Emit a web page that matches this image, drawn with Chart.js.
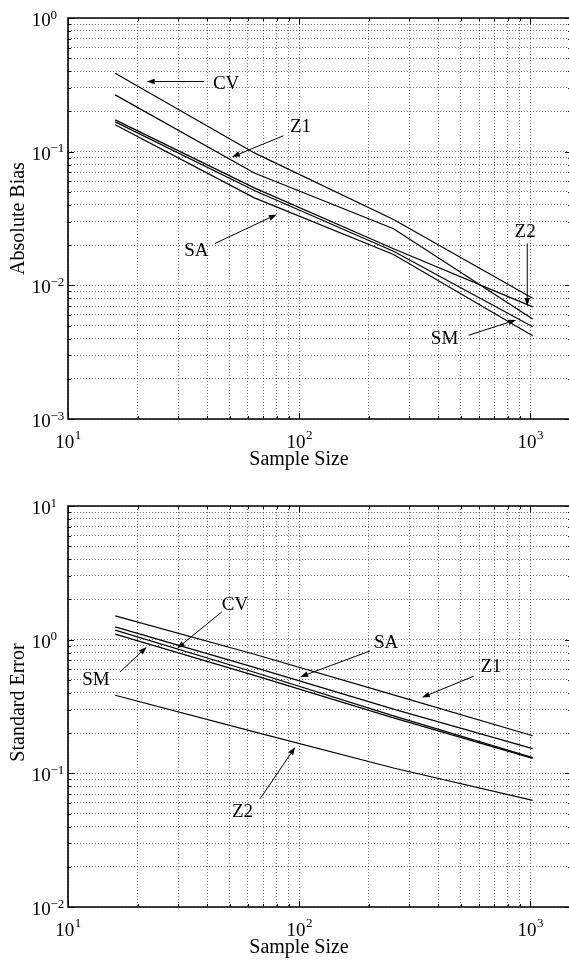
<!DOCTYPE html>
<html><head><meta charset="utf-8">
<script src="https://cdn.jsdelivr.net/npm/chart.js@4.4.0/dist/chart.umd.min.js"></script>
<style>
html,body{margin:0;padding:0;background:#fff;overflow:hidden;width:569px;height:964px;}
canvas{position:absolute;left:0;}
#c1{top:0}
#c2{top:480px}
</style></head><body>
<canvas id="c1" width="571" height="480"></canvas>
<canvas id="c2" width="571" height="484"></canvas>
<script>
// ---- data ----
const seriesNames = ['CV', 'Z1', 'Z2', 'SM', 'SA'];
const sampleSizes = [16, 64, 256, 1024];
// Absolute bias
const biasCV = [0.386, 0.0979, 0.0311, 0.0080];
const biasZ1 = [0.266, 0.0693, 0.0265, 0.0056];
const biasZ2 = [0.173, 0.0536, 0.0188, 0.0069];
const biasSM = [0.167, 0.0512, 0.0180, 0.0049];
const biasSA = [0.159, 0.0451, 0.0170, 0.0042];
// Standard error
const seCV = [1.178, 0.570, 0.269, 0.131];
const seZ1 = [1.506, 0.778, 0.386, 0.191];
const seZ2 = [0.384, 0.204, 0.1096, 0.0628];
const seSM = [1.100, 0.540, 0.260, 0.1294];
const seSA = [1.247, 0.621, 0.302, 0.153];
// tick labels (powers of ten)
const xTickExponents = [1, 2, 3];
const biasTickExponents = [-3, -2, -1, 0];
const seTickExponents = [-2, -1, 0, 1];

// ---- annotations (data coordinates) ----
const biasNotes = [
  {text:'CV', tx:48.3, ty:0.326, ax:38.8, ay:0.335, bx:21.9, by:0.335},
  {text:'Z1', tx:101.4, ty:0.1555, ax:85.5, ay:0.1316, bx:51.2, by:0.0913},
  {text:'SA', tx:35.9, ty:0.01857, ax:43.2, ay:0.02057, bx:80.0, by:0.0339},
  {text:'Z2', tx:950, ty:0.02564, ax:970, ay:0.02057, bx:970, by:0.00701},
  {text:'SM', tx:425.6, ty:0.00407, ax:540.6, ay:0.00423, bx:868.6, by:0.00551}
];
const seNotes = [
  {text:'CV', tx:52.8, ty:1.866, ax:46.3, ay:1.614, bx:29.6, by:0.859},
  {text:'SM', tx:13.2, ty:0.512, ax:16.8, ay:0.574, bx:21.9, by:0.883},
  {text:'SA', tx:237.7, ty:0.971, ax:202.8, ay:0.824, bx:101.0, by:0.526},
  {text:'Z1', tx:676, ty:0.638, ax:569, ay:0.533, bx:339.6, by:0.369},
  {text:'Z2', tx:56.9, ty:0.0526, ax:67.8, ay:0.0646, bx:96.2, by:0.1574}
];

const FONT = '"Liberation Serif", "Times New Roman", serif';

function logTicks(min, max) {
  const t = [];
  for (let e = Math.floor(Math.log10(min)); e <= Math.ceil(Math.log10(max)); e++) {
    for (let m = 1; m < 10; m++) {
      const v = m * Math.pow(10, e);
      if (v >= min * 0.9999 && v <= max * 1.0001) t.push({value: v, major: m === 1});
    }
  }
  return t;
}
function expStr(e) { return e < 0 ? '\u2212' + Math.abs(e) : String(e); }

function makeChart(id, arrays, yMin, yMax, yExps, yTitle, notes, padTop, xAxisH, yTitleDY) {
  const drawPlugin = {
    id: 'matlabStyle',
    afterDraw(chart) {
      const ctx = chart.ctx, ca = chart.chartArea, xs = chart.scales.x, ys = chart.scales.y;
      ctx.save();
      ctx.strokeStyle = '#000'; ctx.fillStyle = '#000';
      const line = (x1, y1, x2, y2) => { ctx.beginPath(); ctx.moveTo(x1, y1); ctx.lineTo(x2, y2); ctx.stroke(); };
      ctx.lineWidth = 1;
      xs.ticks.forEach(t => {
        const px = Math.round(xs.getPixelForValue(t.value)) + 0.5, L = t.major ? 6 : 3;
        line(px, ca.bottom, px, ca.bottom - L); line(px, ca.top, px, ca.top + L);
      });
      ys.ticks.forEach(t => {
        const py = Math.round(ys.getPixelForValue(t.value)) + 0.5, L = t.major ? 6 : 3;
        line(ca.left, py, ca.left + L, py); line(ca.right, py, ca.right - L, py);
      });
      ctx.lineWidth = 1.6;
      ctx.beginPath();
      ctx.moveTo(ca.right, ca.top); ctx.lineTo(ca.left, ca.top); ctx.lineTo(ca.left, ca.bottom); ctx.lineTo(ca.right, ca.bottom);
      ctx.stroke();
      // y tick labels
      ctx.textAlign = 'left'; ctx.textBaseline = 'alphabetic';
      yExps.forEach(e => {
        const py = ys.getPixelForValue(Math.pow(10, e));
        ctx.font = '19px ' + FONT; ctx.fillText('10', ca.left - 36.3, py + 8);
        ctx.font = '13px ' + FONT; ctx.fillText(expStr(e), ca.left - 17.5, py + 0.5);
      });
      // x tick labels
      xTickExponents.forEach(e => {
        const px = xs.getPixelForValue(Math.pow(10, e));
        ctx.font = '19px ' + FONT; const w10 = ctx.measureText('10').width;
        ctx.font = '13px ' + FONT; const ws = ctx.measureText(expStr(e)).width;
        const x0 = px - (w10 + ws) / 2;
        ctx.font = '19px ' + FONT; ctx.fillText('10', x0, ca.bottom + 29);
        ctx.font = '13px ' + FONT; ctx.fillText(expStr(e), x0 + w10 + 0.5, ca.bottom + 19.5);
      });
      // axis titles
      ctx.font = '20px ' + FONT; ctx.textAlign = 'center';
      ctx.fillText('Sample Size', 299, ca.bottom + 46);
      ctx.save();
      ctx.translate(23.5, (ca.top + ca.bottom) / 2 + yTitleDY);
      ctx.rotate(-Math.PI / 2);
      ctx.fillText(yTitle, 0, 0);
      ctx.restore();
      // annotations
      ctx.lineWidth = 1;
      notes.forEach(n => {
        const tx = xs.getPixelForValue(n.tx), ty = ys.getPixelForValue(n.ty);
        ctx.font = '19px ' + FONT; ctx.textAlign = 'center';
        ctx.fillText(n.text, tx, ty + 6.3);
        const x1 = xs.getPixelForValue(n.ax), y1 = ys.getPixelForValue(n.ay);
        const x2 = xs.getPixelForValue(n.bx), y2 = ys.getPixelForValue(n.by);
        const ang = Math.atan2(y2 - y1, x2 - x1), HL = 8, HW = 2.8;
        const bx = x2 - HL * Math.cos(ang), by = y2 - HL * Math.sin(ang);
        line(x1, y1, bx, by);
        ctx.beginPath();
        ctx.moveTo(x2, y2);
        ctx.lineTo(bx - HW * Math.sin(ang), by + HW * Math.cos(ang));
        ctx.lineTo(bx + HW * Math.sin(ang), by - HW * Math.cos(ang));
        ctx.closePath(); ctx.fill();
      });
      ctx.restore();
    }
  };
  const gridCommon = {color: 'rgba(0,0,0,0.55)', lineWidth: 1, drawTicks: false};
  return new Chart(document.getElementById(id), {
    type: 'line',
    data: {
      datasets: seriesNames.map((name, i) => ({
        label: name,
        data: sampleSizes.map((x, j) => ({x: x, y: arrays[i][j]})),
        borderColor: '#000', borderWidth: 1.2, pointRadius: 0, fill: false, tension: 0
      }))
    },
    options: {
      responsive: false, animation: false, devicePixelRatio: 1,
      layout: {padding: {top: padTop, left: 0, right: 0, bottom: 0}},
      plugins: {legend: {display: false}, tooltip: {enabled: false}},
      scales: {
        x: {type: 'logarithmic', min: 10, max: 1500, ticks: {display: false},
            grid: gridCommon, border: {display: false, dash: [1, 2]},
            afterBuildTicks: s => { s.ticks = logTicks(s.min, s.max); },
            afterFit: s => { s.height = xAxisH; }},
        y: {type: 'logarithmic', min: yMin, max: yMax, ticks: {display: false},
            grid: gridCommon, border: {display: false, dash: [1, 2]},
            afterBuildTicks: s => { s.ticks = logTicks(s.min, s.max); },
            afterFit: s => { s.width = 68; }}
      }
    },
    plugins: [drawPlugin]
  });
}

makeChart('c1', [biasCV, biasZ1, biasZ2, biasSM, biasSA], 0.001, 1, biasTickExponents, 'Absolute Bias', biasNotes, 18, 61, 0);
makeChart('c2', [seCV, seZ1, seZ2, seSM, seSA], 0.01, 10, seTickExponents, 'Standard Error', seNotes, 26, 57, -4);
</script>
</body></html>
